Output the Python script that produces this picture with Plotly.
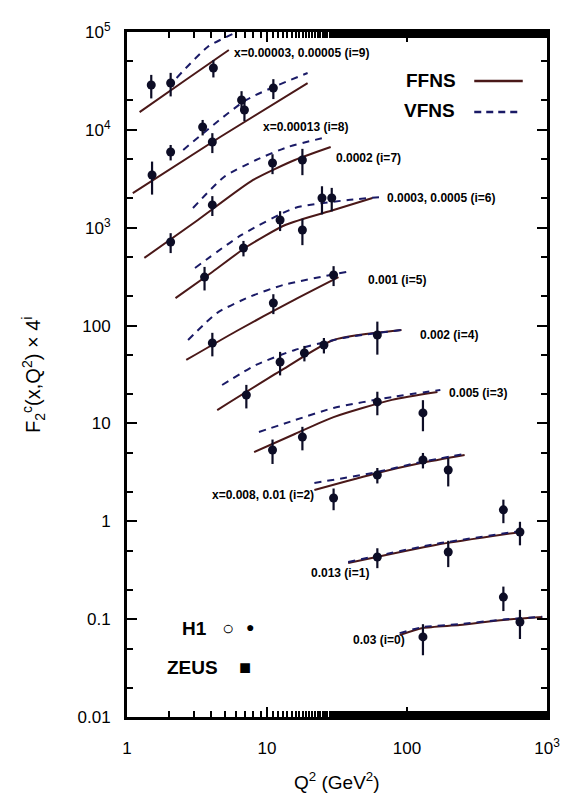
import math
import plotly.graph_objects as go

# ---------------- data ----------------
I_VALUES = [9, 8, 7, 6, 5, 4, 3, 2, 1, 0]

CURVE_LABELS = [
    "x=0.00003, 0.00005 (i=9)",
    "x=0.00013 (i=8)",
    "0.0002 (i=7)",
    "0.0003, 0.0005 (i=6)",
    "0.001 (i=5)",
    "0.002 (i=4)",
    "0.005 (i=3)",
    "x=0.008, 0.01 (i=2)",
    "0.013 (i=1)",
    "0.03 (i=0)",
]
LABEL_Q2 = [5.60, 9.04, 29.9, 69.7, 50.7, 120, 194, 3.94, 20.1, 39.9]
LABEL_F2 = [61000, 10700, 5150, 2010, 292, 80.1, 20.5, 1.86, 0.296, 0.0612]

FFNS_Q2 = [
    [1.23, 2.56, 5.34],
    [1.10, 4.63, 19.5],
    [1.33, 3.21, 7.96, 15.8, 28.5],
    [2.22, 4.07, 7.12, 13.5, 29.9, 56.7],
    [2.65, 6.07, 14.6, 32.4],
    [4.41, 12.8, 29.9, 91.4],
    [8.09, 15.8, 29.9, 78.0, 165],
    [21.8, 61.4, 126, 258],
    [38.0, 160, 651],
    [88.6, 130, 238, 488, 925],
]
FFNS_F2 = [
    [15200, 31600, 65500],
    [2260, 8450, 30100],
    [491, 1200, 3076, 4920, 6680],
    [191, 353, 635, 1067, 1518, 2010],
    [44.5, 88.0, 174, 313],
    [13.7, 35.2, 71.3, 90.2],
    [5.10, 7.80, 11.6, 17.4, 20.9],
    [2.09, 3.12, 3.94, 4.76],
    [0.375, 0.573, 0.778],
    [0.0689, 0.0813, 0.0871, 0.098, 0.105],
]

VFNS_Q2 = [
    [2.26, 3.76, 5.88],
    [2.52, 7.12, 19.5],
    [2.96, 4.93, 8.35, 14.1, 26.8],
    [3.06, 6.58, 15.8, 38.0, 66.5],
    [2.73, 4.41, 7.47, 13.05, 36.8],
    [4.78, 8.35, 15.8, 35.1, 91.4],
    [8.76, 15.8, 29.9, 78.0, 173],
    [21.8, 61.4, 126, 258],
    [38.0, 160, 651],
    [88.6, 130, 238, 488, 925],
]
VFNS_F2 = [
    [33900, 70200, 97700],
    [6230, 20200, 38100],
    [1590, 3300, 4920, 6680, 8450],
    [388, 843, 1590, 1920, 2060],
    [71.3, 135, 196, 260, 353],
    [24.7, 39.6, 56.3, 74.7, 90.2],
    [8.18, 10.8, 14.4, 18.6, 22.0],
    [2.46, 3.19, 4.04, 4.87],
    [0.384, 0.586, 0.796],
    [0.072, 0.083, 0.089, 0.099, 0.106],
]

DATA_Q2 = [
    [1.49, 2.05, 4.14],
    [1.51, 2.05, 3.47, 4.07, 6.58, 6.90, 11.1],
    [2.05, 4.07, 10.95, 17.9],
    [3.58, 6.79, 12.4, 17.9, 24.7, 29.0],
    [4.07, 11.1, 29.9],
    [7.12, 12.4, 18.5, 25.5, 61.4],
    [10.95, 17.9, 61.4, 130],
    [29.9, 61.4, 130, 197],
    [61.4, 197, 488, 641],
    [130, 488, 641],
]
DATA_F2 = [
    [28700, 30100, 42900],
    [3460, 5940, 10700, 7520, 20200, 15950, 26800],
    [715, 1710, 4580, 4920],
    [313, 621, 1200, 948, 2010, 2010],
    [66.4, 170, 329],
    [19.5, 42.4, 52.5, 63.3, 80.1],
    [5.35, 7.27, 16.6, 12.8],
    [1.73, 2.97, 4.23, 3.34],
    [0.431, 0.486, 1.31, 0.778],
    [0.0658, 0.168, 0.0935],
]
DATA_REL_ERR = [
    [0.27, 0.27, 0.20],
    [0.37, 0.18, 0.18, 0.23, 0.23, 0.23, 0.23],
    [0.23, 0.23, 0.23, 0.30],
    [0.27, 0.18, 0.23, 0.30, 0.32, 0.27],
    [0.27, 0.23, 0.23],
    [0.27, 0.27, 0.18, 0.18, 0.37],
    [0.28, 0.27, 0.27, 0.35],
    [0.25, 0.18, 0.18, 0.32],
    [0.23, 0.30, 0.27, 0.27],
    [0.35, 0.28, 0.33],
]

X_TICKS = [1, 10, 100, 1000]
X_TICKTEXT = ["1", "10", "100", "10<sup>3</sup>"]
Y_TICKS = [0.01, 0.1, 1, 10, 100, 1000, 10000, 100000]
Y_TICKTEXT = ["0.01", "0.1", "1", "10", "100", "10<sup>3</sup>", "10<sup>4</sup>", "10<sup>5</sup>"]

# ---------------- styles ----------------
FFNS_COLOR = "#4a1818"
VFNS_COLOR = "#1a1a66"
POINT_COLOR = "#0d0d26"
FONT = "Liberation Sans, Arial, sans-serif"

W, H = 571, 800
ML, MR, MT, MB = 127, 11, 32, 83
PW, PH = W - ML - MR, H - MT - MB


def px(x):
    return (x - ML) / PW


def py(y):
    return (H - MB - y) / PH


fig = go.Figure()

for k in range(len(I_VALUES)):
    fig.add_trace(go.Scatter(
        x=FFNS_Q2[k], y=FFNS_F2[k], mode="lines",
        line=dict(color=FFNS_COLOR, width=2, shape="spline", smoothing=0.6),
        showlegend=False, hoverinfo="skip"))
    fig.add_trace(go.Scatter(
        x=VFNS_Q2[k], y=VFNS_F2[k], mode="lines",
        line=dict(color=VFNS_COLOR, width=2, dash="7px,6px", shape="spline", smoothing=0.6),
        showlegend=False, hoverinfo="skip"))
    errs = [v * r for v, r in zip(DATA_F2[k], DATA_REL_ERR[k])]
    fig.add_trace(go.Scatter(
        x=DATA_Q2[k], y=DATA_F2[k], mode="markers",
        marker=dict(color=POINT_COLOR, size=9, symbol="circle"),
        error_y=dict(type="data", array=errs, visible=True, color=POINT_COLOR,
                     thickness=2.2, width=0),
        showlegend=False))

annotations = []
for k in range(len(I_VALUES)):
    # annotation positions on log axes are given in log10 units
    annotations.append(dict(
        x=math.log10(LABEL_Q2[k]), y=math.log10(LABEL_F2[k]), xref="x", yref="y",
        text="<b>" + CURVE_LABELS[k] + "</b>", showarrow=False,
        xanchor="left", yanchor="middle",
        font=dict(family=FONT, size=12, color="black")))


def paper_text(x, y, text, size, **kw):
    d = dict(x=px(x), y=py(y), xref="paper", yref="paper", text=text,
             showarrow=False, xanchor="center", yanchor="middle",
             font=dict(family=FONT, size=size, color="black"))
    d.update(kw)
    return d


annotations += [
    paper_text(440, 80, "<b>FFNS</b>", 19),
    paper_text(439, 110, "<b>VFNS</b>", 19),
    paper_text(197, 628, "<b>H1</b>", 19),
    paper_text(231, 628, "<b>○</b>", 20),
    paper_text(254, 627, "●", 14),
    paper_text(195, 667, "<b>ZEUS</b>", 19),
    paper_text(249, 667, "■", 20),
    paper_text(343, 781, "Q<sup>2</sup> (GeV<sup>2</sup>)", 19),
    paper_text(30, 375, "F<sub>2</sub><sup>c</sup>(x,Q<sup>2</sup>) × 4<sup>i</sup>", 20,
               textangle=-90),
]

shapes = [
    dict(type="line", xref="paper", yref="paper", x0=px(485), x1=px(535), y0=py(81), y1=py(81),
         line=dict(color=FFNS_COLOR, width=2.5)),
    dict(type="line", xref="paper", yref="paper", x0=px(485), x1=px(534), y0=py(112), y1=py(112),
         line=dict(color=VFNS_COLOR, width=2.5, dash="7px,5px")),
]

axis_common = dict(
    type="log", showline=True, linecolor="black", linewidth=3, mirror="ticks",
    ticks="inside", ticklen=10, tickwidth=2, tickcolor="black",
    showgrid=False, zeroline=False,
    minor=dict(ticks="inside", ticklen=6, tickwidth=1.5, tickcolor="black", showgrid=False),
    tickfont=dict(family=FONT, size=17, color="black"),
)

fig.update_layout(
    width=W, height=H,
    margin=dict(l=ML, r=MR, t=MT, b=MB),
    paper_bgcolor="white", plot_bgcolor="white",
    xaxis=dict(range=[0, 3], tickvals=X_TICKS, ticktext=X_TICKTEXT,
               ticklabelstandoff=14, **axis_common),
    yaxis=dict(range=[-2, 5], tickvals=Y_TICKS, ticktext=Y_TICKTEXT,
               ticklabelstandoff=10, **axis_common),
    annotations=annotations,
    shapes=shapes,
    showlegend=False,
)

fig.write_html("out.html")
